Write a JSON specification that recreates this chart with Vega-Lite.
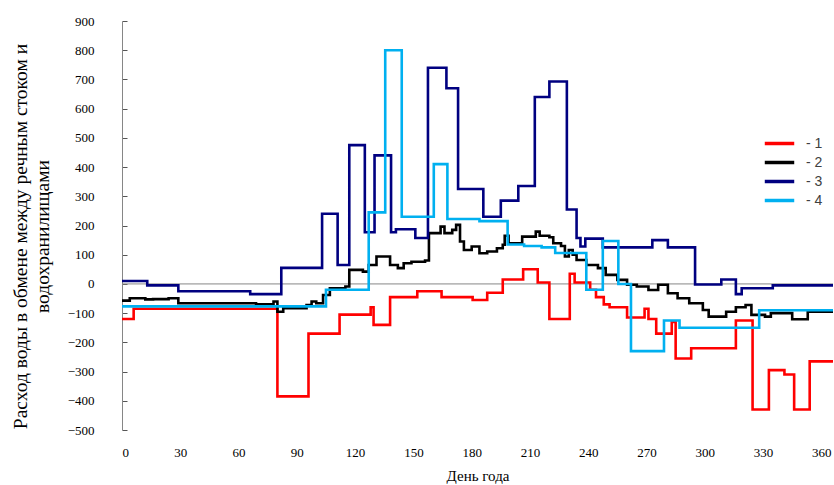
{
  "$schema": "https://vega.github.io/schema/vega-lite/v6.json",
  "width": 711,
  "height": 409,
  "autosize": "none",
  "padding": {"left": 122, "top": 21, "right": 1, "bottom": 55},
  "background": "white",
  "config": {
    "view": {"stroke": null},
    "axis": {"labelFont": "Liberation Serif", "labelFontSize": 13, "labelColor": "black", "titleFont": "Liberation Serif", "titleFontWeight": "normal", "titleColor": "black", "grid": false, "labelOverlap": false}
  },
  "datasets": {
    "main": [
      {"s": "- 1", "day": 0, "v": -120}, {"s": "- 1", "day": 6, "v": -85}, {"s": "- 1", "day": 80, "v": -385},
      {"s": "- 1", "day": 96, "v": -170}, {"s": "- 1", "day": 112, "v": -105}, {"s": "- 1", "day": 128, "v": -80},
      {"s": "- 1", "day": 129.5, "v": -140}, {"s": "- 1", "day": 138, "v": -45}, {"s": "- 1", "day": 152, "v": -25},
      {"s": "- 1", "day": 164.5, "v": -45}, {"s": "- 1", "day": 180.5, "v": -55}, {"s": "- 1", "day": 188, "v": -30},
      {"s": "- 1", "day": 196, "v": 15}, {"s": "- 1", "day": 206.5, "v": 50}, {"s": "- 1", "day": 214, "v": 5},
      {"s": "- 1", "day": 220, "v": -120}, {"s": "- 1", "day": 230.5, "v": 35}, {"s": "- 1", "day": 233, "v": 5},
      {"s": "- 1", "day": 241, "v": -20}, {"s": "- 1", "day": 244, "v": -45}, {"s": "- 1", "day": 248, "v": -70},
      {"s": "- 1", "day": 251, "v": -80}, {"s": "- 1", "day": 260, "v": -115}, {"s": "- 1", "day": 269, "v": -85},
      {"s": "- 1", "day": 271, "v": -120}, {"s": "- 1", "day": 275, "v": -170}, {"s": "- 1", "day": 283, "v": -130},
      {"s": "- 1", "day": 285, "v": -255}, {"s": "- 1", "day": 293, "v": -220}, {"s": "- 1", "day": 316, "v": -125},
      {"s": "- 1", "day": 324.6, "v": -430}, {"s": "- 1", "day": 333, "v": -295}, {"s": "- 1", "day": 341, "v": -310},
      {"s": "- 1", "day": 346, "v": -430}, {"s": "- 1", "day": 354, "v": -265}, {"s": "- 1", "day": 366, "v": -265},

      {"s": "- 2", "day": 0, "v": -57}, {"s": "- 2", "day": 4, "v": -49}, {"s": "- 2", "day": 12, "v": -53},
      {"s": "- 2", "day": 16, "v": -52}, {"s": "- 2", "day": 24, "v": -49}, {"s": "- 2", "day": 29, "v": -66},
      {"s": "- 2", "day": 69, "v": -70}, {"s": "- 2", "day": 78, "v": -60}, {"s": "- 2", "day": 80, "v": -95},
      {"s": "- 2", "day": 83, "v": -83}, {"s": "- 2", "day": 95, "v": -72}, {"s": "- 2", "day": 97.6, "v": -60},
      {"s": "- 2", "day": 100, "v": -66}, {"s": "- 2", "day": 103.5, "v": -38}, {"s": "- 2", "day": 107, "v": -15},
      {"s": "- 2", "day": 115, "v": -9}, {"s": "- 2", "day": 117, "v": 48}, {"s": "- 2", "day": 124, "v": 42},
      {"s": "- 2", "day": 127, "v": 65}, {"s": "- 2", "day": 131, "v": 94}, {"s": "- 2", "day": 138, "v": 65},
      {"s": "- 2", "day": 142, "v": 54}, {"s": "- 2", "day": 145, "v": 71}, {"s": "- 2", "day": 149, "v": 76},
      {"s": "- 2", "day": 156, "v": 80}, {"s": "- 2", "day": 158, "v": 174}, {"s": "- 2", "day": 164, "v": 196},
      {"s": "- 2", "day": 166, "v": 174}, {"s": "- 2", "day": 170, "v": 185}, {"s": "- 2", "day": 172, "v": 202},
      {"s": "- 2", "day": 174, "v": 145}, {"s": "- 2", "day": 176, "v": 116}, {"s": "- 2", "day": 180, "v": 128},
      {"s": "- 2", "day": 184, "v": 105}, {"s": "- 2", "day": 188, "v": 111}, {"s": "- 2", "day": 193, "v": 122},
      {"s": "- 2", "day": 196, "v": 134}, {"s": "- 2", "day": 197, "v": 165}, {"s": "- 2", "day": 199, "v": 139},
      {"s": "- 2", "day": 206, "v": 162}, {"s": "- 2", "day": 213, "v": 179}, {"s": "- 2", "day": 215, "v": 165},
      {"s": "- 2", "day": 220, "v": 160}, {"s": "- 2", "day": 222, "v": 139}, {"s": "- 2", "day": 226, "v": 130},
      {"s": "- 2", "day": 228, "v": 94}, {"s": "- 2", "day": 230, "v": 116}, {"s": "- 2", "day": 232, "v": 100},
      {"s": "- 2", "day": 234, "v": 82}, {"s": "- 2", "day": 239, "v": 65}, {"s": "- 2", "day": 245, "v": 54},
      {"s": "- 2", "day": 249, "v": 31}, {"s": "- 2", "day": 255, "v": 14}, {"s": "- 2", "day": 260, "v": -3},
      {"s": "- 2", "day": 265, "v": -9}, {"s": "- 2", "day": 271, "v": -21}, {"s": "- 2", "day": 276, "v": -3},
      {"s": "- 2", "day": 281, "v": -32}, {"s": "- 2", "day": 286, "v": -49}, {"s": "- 2", "day": 292, "v": -66},
      {"s": "- 2", "day": 299, "v": -89}, {"s": "- 2", "day": 302, "v": -112}, {"s": "- 2", "day": 311, "v": -95},
      {"s": "- 2", "day": 316, "v": -80}, {"s": "- 2", "day": 321, "v": -72}, {"s": "- 2", "day": 324, "v": -106},
      {"s": "- 2", "day": 331, "v": -112}, {"s": "- 2", "day": 334, "v": -100}, {"s": "- 2", "day": 345, "v": -121},
      {"s": "- 2", "day": 353, "v": -95}, {"s": "- 2", "day": 366, "v": -95},

      {"s": "- 3", "day": 0, "v": 10}, {"s": "- 3", "day": 13, "v": -5}, {"s": "- 3", "day": 29, "v": -25},
      {"s": "- 3", "day": 66, "v": -35}, {"s": "- 3", "day": 82, "v": 55}, {"s": "- 3", "day": 103, "v": 240},
      {"s": "- 3", "day": 111, "v": 65}, {"s": "- 3", "day": 117, "v": 475}, {"s": "- 3", "day": 125, "v": 177},
      {"s": "- 3", "day": 130, "v": 440}, {"s": "- 3", "day": 138.5, "v": 177}, {"s": "- 3", "day": 141, "v": 187},
      {"s": "- 3", "day": 151, "v": 157}, {"s": "- 3", "day": 157.5, "v": 740}, {"s": "- 3", "day": 167, "v": 670},
      {"s": "- 3", "day": 173, "v": 325}, {"s": "- 3", "day": 186, "v": 230}, {"s": "- 3", "day": 195, "v": 285},
      {"s": "- 3", "day": 204, "v": 335}, {"s": "- 3", "day": 212.5, "v": 640}, {"s": "- 3", "day": 220, "v": 693},
      {"s": "- 3", "day": 229, "v": 255}, {"s": "- 3", "day": 234, "v": 157}, {"s": "- 3", "day": 236, "v": 128},
      {"s": "- 3", "day": 238.5, "v": 155}, {"s": "- 3", "day": 247.5, "v": 125}, {"s": "- 3", "day": 273, "v": 150},
      {"s": "- 3", "day": 281, "v": 125}, {"s": "- 3", "day": 295, "v": -2}, {"s": "- 3", "day": 308.5, "v": 15},
      {"s": "- 3", "day": 316, "v": -35}, {"s": "- 3", "day": 319, "v": -15}, {"s": "- 3", "day": 335, "v": -5},
      {"s": "- 3", "day": 366, "v": -5},

      {"s": "- 4", "day": 0, "v": -77}, {"s": "- 4", "day": 105, "v": -20}, {"s": "- 4", "day": 127, "v": 245},
      {"s": "- 4", "day": 135.5, "v": 800}, {"s": "- 4", "day": 144, "v": 230}, {"s": "- 4", "day": 160.5, "v": 410},
      {"s": "- 4", "day": 167.5, "v": 222}, {"s": "- 4", "day": 184, "v": 215}, {"s": "- 4", "day": 198.5, "v": 135},
      {"s": "- 4", "day": 207, "v": 130}, {"s": "- 4", "day": 216, "v": 125}, {"s": "- 4", "day": 223, "v": 106},
      {"s": "- 4", "day": 239, "v": -20}, {"s": "- 4", "day": 247.5, "v": 147}, {"s": "- 4", "day": 255.5, "v": 0},
      {"s": "- 4", "day": 262, "v": -230}, {"s": "- 4", "day": 279, "v": -125}, {"s": "- 4", "day": 287, "v": -150},
      {"s": "- 4", "day": 328, "v": -90}, {"s": "- 4", "day": 366, "v": -90}
    ],
    "zticks": [{"d": 30}, {"d": 60}, {"d": 90}, {"d": 120}, {"d": 150}, {"d": 180}, {"d": 210}, {"d": 240}, {"d": 270}, {"d": 300}, {"d": 330}, {"d": 360}]
  },
  "encoding": {
    "y": {"field": "v", "type": "quantitative", "scale": {"domain": [-500, 900], "nice": false},
          "axis": {"values": [-500, -400, -300, -200, -100, 0, 100, 200, 300, 400, 500, 600, 700, 800, 900], "labelOverlap": false, "domainColor": "#868686", "tickColor": "#555", "tickSize": -5, "labelPadding": 33,
                   "title": ["Расход воды в обмене между речным стоком и", "водохранилищами"], "titleFontSize": 19.5, "titleLineHeight": 22, "titleX": -102, "titleY": 215, "titleBaseline": "middle", "titleAngle": -90}}
  },
  "layer": [
    {
      "data": {"values": [{"v": 0}]},
      "mark": {"type": "rule", "color": "#868686", "strokeWidth": 1},
      "encoding": {}
    },
    {
      "data": {"name": "zticks"},
      "mark": {"type": "rule", "color": "#000000", "strokeWidth": 1.3},
      "encoding": {
        "x": {"field": "d", "type": "quantitative"},
        "y": {"datum": -20.5, "type": "quantitative"},
        "y2": {"datum": 20.5}
      }
    },
    {
      "data": {"name": "main"},
      "mark": {"type": "line", "interpolate": "step-after", "strokeWidth": 2.6},
      "encoding": {
        "x": {"field": "day", "type": "quantitative", "scale": {"domain": [0, 366], "nice": false},
              "axis": {"orient": "bottom", "values": [0, 30, 60, 90, 120, 150, 180, 210, 240, 270, 300, 330, 360], "domain": false, "ticks": false, "labelPadding": 16, "title": "День года", "titleFontSize": 15, "titlePadding": 9}},
        "color": {"field": "s", "type": "nominal",
                  "scale": {"domain": ["- 1", "- 2", "- 3", "- 4"], "range": ["#FF0000", "#000000", "#000080", "#00B0F0"]},
                  "legend": {"title": null, "orient": "none", "legendX": 646, "legendY": 111, "symbolType": "M-1.55,0H1.55", "symbolSize": 361, "symbolStrokeWidth": 3.5, "labelFont": "Liberation Sans", "labelFontSize": 14, "labelColor": "#404040", "labelOffset": 15, "rowPadding": 0}},
        "strokeWidth": {"condition": {"test": "datum.s === '- 2'", "value": 4}, "value": 2.6}
      }
    }
  ]
}
